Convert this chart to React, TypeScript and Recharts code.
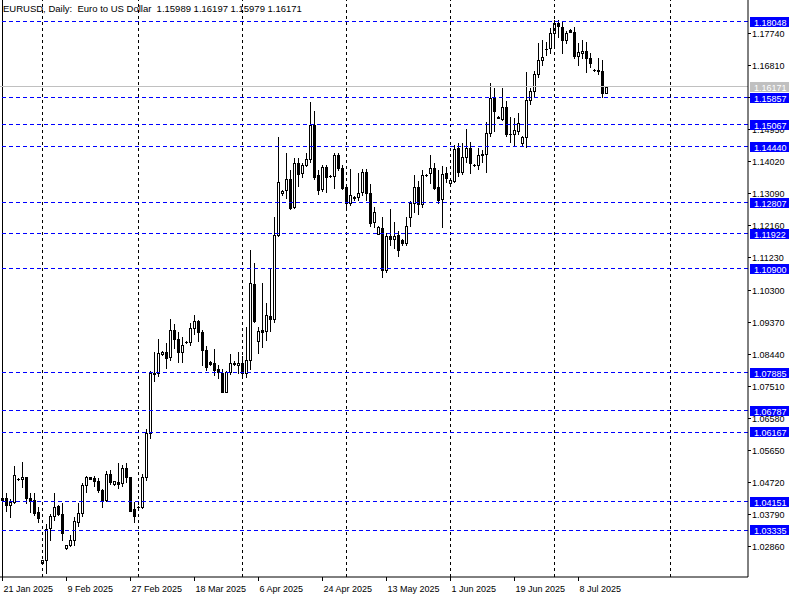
import { ComposedChart, Bar, XAxis, YAxis, ReferenceLine } from "recharts";

// daily EURUSD candles, 21 Jan 2025 .. 16 Jul 2025 (Sunday bars included)
const open = [
  1.042, 1.0426, 1.0406, 1.0416, 1.0481, 1.048, 1.0486, 1.0425, 1.042, 1.0386,
  1.0237, 1.0247, 1.0338, 1.0374, 1.0403, 1.038, 1.028, 1.0289, 1.0305, 1.0358,
  1.0382, 1.0464, 1.0486, 1.0483, 1.0476, 1.0449, 1.042, 1.0496, 1.0467, 1.0473,
  1.0469, 1.0512, 1.0486, 1.0393, 1.04, 1.0399, 1.0486, 1.0615, 1.0787, 1.0787,
  1.0842, 1.085, 1.0834, 1.0913, 1.0886, 1.085, 1.0878, 1.0879, 1.0918, 1.094,
  1.0906, 1.0855, 1.0821, 1.0816, 1.0799, 1.0789, 1.0734, 1.0792, 1.0818, 1.0811,
  1.0816, 1.0789, 1.0826, 1.1046, 1.0882, 1.0913, 1.0911, 1.0953, 1.0944, 1.1188,
  1.1309, 1.1318, 1.1349, 1.127, 1.1396, 1.1367, 1.1392, 1.1407, 1.1506, 1.1362,
  1.132, 1.1384, 1.1358, 1.1359, 1.142, 1.1381, 1.1326, 1.1281, 1.1297, 1.1297,
  1.1313, 1.137, 1.1309, 1.1225, 1.1192, 1.1207, 1.1087, 1.1185, 1.1175, 1.1188,
  1.1173, 1.1166, 1.1239, 1.128, 1.1326, 1.1278, 1.1362, 1.1367, 1.1381, 1.1328,
  1.1291, 1.1367, 1.1338, 1.1344, 1.1439, 1.1371, 1.1413, 1.1439, 1.1391, 1.1391,
  1.142, 1.1422, 1.1482, 1.1584, 1.153, 1.1525, 1.1558, 1.148, 1.148, 1.149,
  1.1453, 1.1473, 1.1578, 1.1606, 1.1654, 1.1695, 1.1726, 1.1729, 1.1774, 1.1803,
  1.1791, 1.1753, 1.1782, 1.1776, 1.1706, 1.1714, 1.1722, 1.17, 1.1667, 1.1666,
  1.1663, 1.15989,
];
const high = [
  1.0452, 1.044, 1.0422, 1.0519, 1.0484, 1.053, 1.0488, 1.0442, 1.044, 1.0401,
  1.0247, 1.035, 1.038, 1.044, 1.0405, 1.0412, 1.029, 1.0318, 1.0372, 1.0411,
  1.047, 1.049, 1.0488, 1.049, 1.0483, 1.0451, 1.0505, 1.0506, 1.0475, 1.0527,
  1.0522, 1.0528, 1.0488, 1.0415, 1.0403, 1.0496, 1.0625, 1.0793, 1.085, 1.0886,
  1.0851, 1.0876, 1.0945, 1.093, 1.0908, 1.0893, 1.0882, 1.0932, 1.0955, 1.0943,
  1.0912, 1.0865, 1.0823, 1.0857, 1.081, 1.08, 1.0795, 1.0843, 1.0823, 1.0848,
  1.0837, 1.0922, 1.1144, 1.1107, 1.0922, 1.1048, 1.0992, 1.1091, 1.1241, 1.1473,
  1.1318, 1.1425, 1.1376, 1.141, 1.141, 1.1396, 1.1425, 1.1573, 1.1547, 1.1376,
  1.1391, 1.1391, 1.1362, 1.1424, 1.1426, 1.139, 1.133, 1.138, 1.13, 1.1367,
  1.138, 1.138, 1.1336, 1.127, 1.1213, 1.1241, 1.1195, 1.1262, 1.1226, 1.12,
  1.1175, 1.1241, 1.1287, 1.1362, 1.1345, 1.1375, 1.1366, 1.1419, 1.1395, 1.1376,
  1.1388, 1.1385, 1.1349, 1.145, 1.1455, 1.1453, 1.1495, 1.1458, 1.1394, 1.144,
  1.1435, 1.1516, 1.1628, 1.1613, 1.1533, 1.1615, 1.1575, 1.1529, 1.1526, 1.154,
  1.1475, 1.166, 1.1613, 1.1664, 1.1745, 1.1754, 1.1748, 1.1787, 1.1812, 1.181,
  1.1806, 1.178, 1.1784, 1.179, 1.1745, 1.1753, 1.1748, 1.1715, 1.167, 1.17,
  1.1695, 1.16197,
];
const low = [
  1.0405, 1.0388, 1.037, 1.0412, 1.0478, 1.0459, 1.0411, 1.0386, 1.0377, 1.0357,
  1.0234, 1.0209, 1.0305, 1.0362, 1.0378, 1.0305, 1.0279, 1.0286, 1.029, 1.0345,
  1.0375, 1.0445, 1.048, 1.046, 1.0445, 1.0401, 1.0418, 1.0466, 1.0465, 1.0454,
  1.046, 1.0473, 1.0388, 1.0357, 1.0397, 1.0396, 1.0478, 1.06, 1.0765, 1.078,
  1.0841, 1.0802, 1.0825, 1.086, 1.0821, 1.0821, 1.0875, 1.0868, 1.09, 1.088,
  1.0811, 1.0797, 1.0812, 1.0782, 1.0775, 1.0732, 1.0733, 1.0785, 1.0812, 1.0787,
  1.0776, 1.0778, 1.08, 1.0935, 1.0845, 1.0864, 1.0884, 1.0911, 1.0937, 1.1185,
  1.1305, 1.1294, 1.1262, 1.1265, 1.133, 1.1356, 1.1388, 1.14, 1.135, 1.1307,
  1.1315, 1.1313, 1.1355, 1.1323, 1.1375, 1.132, 1.1265, 1.1275, 1.129, 1.129,
  1.1305, 1.129, 1.1215, 1.121, 1.119, 1.1065, 1.108, 1.116, 1.115, 1.1127,
  1.116, 1.116, 1.1214, 1.1255, 1.125, 1.127, 1.1358, 1.1338, 1.132, 1.128,
  1.121, 1.134, 1.1336, 1.134, 1.136, 1.1365, 1.14, 1.1367, 1.1388, 1.138,
  1.14, 1.137, 1.1475, 1.1489, 1.1526, 1.152, 1.1475, 1.1458, 1.1446, 1.148,
  1.145, 1.1444, 1.1567, 1.159, 1.1645, 1.168, 1.1709, 1.1715, 1.173, 1.176,
  1.1714, 1.1745, 1.1775, 1.17, 1.168, 1.17, 1.1661, 1.1675, 1.1663, 1.1654,
  1.1588, 1.15979,
];
const close = [
  1.0426, 1.0406, 1.0415, 1.0493, 1.048, 1.0486, 1.0425, 1.0418, 1.0384, 1.0367,
  1.0246, 1.0335, 1.0374, 1.0401, 1.038, 1.0324, 1.0289, 1.0305, 1.036, 1.0382,
  1.0464, 1.0488, 1.0481, 1.0476, 1.0449, 1.042, 1.0496, 1.0473, 1.0474, 1.0466,
  1.0512, 1.0488, 1.0389, 1.0374, 1.0401, 1.0486, 1.0615, 1.0787, 1.0785, 1.0847,
  1.085, 1.0832, 1.0913, 1.0886, 1.085, 1.0869, 1.0879, 1.0918, 1.094, 1.0906,
  1.0855, 1.0807, 1.0814, 1.0797, 1.079, 1.0734, 1.0792, 1.0816, 1.0815, 1.0818,
  1.0789, 1.0826, 1.1048, 1.094, 1.0911, 1.0908, 1.0956, 1.0944, 1.1188, 1.1342,
  1.1316, 1.1349, 1.1266, 1.1396, 1.1364, 1.1392, 1.1407, 1.1506, 1.1357, 1.1318,
  1.1384, 1.1357, 1.1359, 1.142, 1.1381, 1.1323, 1.1281, 1.1304, 1.1295, 1.1309,
  1.137, 1.1309, 1.1224, 1.1254, 1.1211, 1.1087, 1.1185, 1.1175, 1.1185, 1.1145,
  1.1164, 1.1214, 1.1281, 1.1326, 1.1279, 1.1362, 1.1363, 1.1381, 1.1323, 1.1289,
  1.1364, 1.1353, 1.1347, 1.1437, 1.1371, 1.1413, 1.1439, 1.1396, 1.1392, 1.142,
  1.1422, 1.1482, 1.1584, 1.1548, 1.1528, 1.1558, 1.148, 1.1481, 1.1492, 1.1513,
  1.1473, 1.1578, 1.1606, 1.1654, 1.1695, 1.1703, 1.1727, 1.1774, 1.1803, 1.1793,
  1.1753, 1.1772, 1.1776, 1.1706, 1.1719, 1.1722, 1.17, 1.1685, 1.1666, 1.1662,
  1.1599, 1.16171,
];

const dateTicks = [
  "21 Jan 2025", "9 Feb 2025", "27 Feb 2025", "18 Mar 2025", "6 Apr 2025",
  "24 Apr 2025", "13 May 2025", "1 Jun 2025", "19 Jun 2025", "8 Jul 2025",
];
const priceTicks = [
  1.1774, 1.1681, 1.1588, 1.1495, 1.1402, 1.1309, 1.1216, 1.1123, 1.103,
  1.0937, 1.0844, 1.0751, 1.0658, 1.0565, 1.0472, 1.0379, 1.0286,
];
const levels = [
  1.18048, 1.15857, 1.15067, 1.1444, 1.12807, 1.11922, 1.109, 1.07885,
  1.06787, 1.06167, 1.04151, 1.03335,
];
const monthStarts = ["2 Feb 2025", "2 Mar 2025", "1 Apr 2025", "1 May 2025", "1 Jun 2025", "1 Jul 2025", "f15"];
const bid = 1.16171;

const MON = ["Jan", "Feb", "Mar", "Apr", "May", "Jun", "Jul", "Aug"];
// broker calendar: Sunday..Friday bars, no Saturday
const dates: string[] = [];
for (let d = new Date(Date.UTC(2025, 0, 21)); dates.length < open.length; d.setUTCDate(d.getUTCDate() + 1)) {
  if (d.getUTCDay() === 6) continue;
  dates.push(`${d.getUTCDate()} ${MON[d.getUTCMonth()]} 2025`);
}

const FUTURE = 35; // empty chart shift on the right
const rows = [
  ...dates.map((date, i) => ({
    date,
    open: open[i],
    high: high[i],
    low: low[i],
    close: close[i],
    range: [low[i], high[i]],
  })),
  ...Array.from({ length: FUTURE }, (_, k) => ({ date: `f${k}`, range: null })),
];

// plain ticks first, then the tags so they paint over the ticks they hide
const axisTicks = [...priceTicks, bid, ...levels];

const FONT = "Liberation Sans, Arial, sans-serif";

function Candle(props: any) {
  const { x, y, width, height, payload } = props;
  if (!payload || payload.open == null) return null;
  const { open: o, high: h, low: l, close: c } = payload;
  const top = Math.min(y, y + height);
  const hh = Math.abs(height);
  const toY = (p: number) => top + ((h - p) / (h - l)) * hh;
  const cx = Math.floor(x + width / 2);
  const b1 = Math.round(Math.min(toY(o), toY(c)));
  const b2 = Math.round(Math.max(toY(o), toY(c)));
  return (
    <g shapeRendering="crispEdges">
      <line x1={cx + 0.5} x2={cx + 0.5} y1={Math.round(top)} y2={Math.round(top + hh) + 1} stroke="#000" />
      {b2 - b1 < 1 ? (
        <line x1={cx - 1} x2={cx + 2} y1={b1 + 0.5} y2={b1 + 0.5} stroke="#000" />
      ) : c >= o ? (
        <rect x={cx - 0.5} y={b1 + 0.5} width={2} height={b2 - b1} fill="#fff" stroke="#000" />
      ) : (
        <rect x={cx - 1} y={b1} width={3} height={b2 - b1 + 1} fill="#000" />
      )}
    </g>
  );
}

function DateTick({ x, y, payload }: any) {
  const px = Math.round(x) + 0.5;
  return (
    <g shapeRendering="crispEdges">
      <line x1={px} x2={px} y1={y} y2={y + 4} stroke="#000" />
      <text x={px + 1} y={y + 15} fontSize={9} fontFamily={FONT} fill="#000" textAnchor="start">
        {payload.value}
      </text>
    </g>
  );
}

function PriceTick({ x, y, payload }: any) {
  const v: number = payload.value;
  const yy = Math.round(y);
  const isLevel = levels.includes(v);
  const isBid = v === bid;
  if (isLevel || isBid) {
    return (
      <g>
        <rect x={x - 2} y={yy - 5} width={39} height={10} fill={isBid ? "#c0c0c0" : "#0000ff"} shapeRendering="crispEdges" />
        <text x={x + 2} y={yy + 4} fontSize={9} fontFamily={FONT} fill="#fff">
          {v.toFixed(5)}
        </text>
      </g>
    );
  }
  return (
    <g>
      <line x1={x - 4} x2={x - 1} y1={yy + 0.5} y2={yy + 0.5} stroke="#000" shapeRendering="crispEdges" />
      <text x={x} y={yy + 4} fontSize={9} fontFamily={FONT} fill="#000">
        {v.toFixed(5)}
      </text>
    </g>
  );
}

export default function App() {
  return (
    <div style={{ position: "absolute", left: 0, top: 0, width: 800, height: 600, background: "#fff" }}>
      <ComposedChart
        width={800}
        height={600}
        data={rows}
        margin={{ top: 0, right: 0, bottom: 0, left: 0 }}
        barCategoryGap={0}
      >
        <XAxis
          dataKey="date"
          type="category"
          ticks={dateTicks}
          interval={0}
          height={23}
          tickSize={0}
          tickMargin={0}
          tickLine={false}
          axisLine={{ stroke: "#000" }}
          tick={<DateTick />}
        />
        <YAxis
          orientation="right"
          type="number"
          width={52}
          domain={[1.01974, 1.18685]}
          allowDataOverflow
          ticks={axisTicks}
          interval={0}
          tickSize={3}
          tickMargin={1}
          tickLine={false}
          tick={<PriceTick />}
          axisLine={{ stroke: "#000" }}
        />
        {monthStarts.map((m) => (
          <ReferenceLine key={m} x={m} stroke="#000" strokeDasharray="3 3" shapeRendering="crispEdges" />
        ))}
        <ReferenceLine x={dates[0]} stroke="#000" shapeRendering="crispEdges" />
        <Bar dataKey="range" shape={<Candle />} isAnimationActive={false} />
        {levels.map((v) => (
          <ReferenceLine key={v} y={v} stroke="#0000ff" strokeDasharray="4 3" shapeRendering="crispEdges" />
        ))}
        <ReferenceLine y={bid} stroke="#c0c0c0" shapeRendering="crispEdges" />
      </ComposedChart>
      <div
        style={{
          position: "absolute",
          left: 3,
          top: 3,
          fontFamily: FONT,
          fontSize: 9.5,
          lineHeight: "11px",
          whiteSpace: "pre",
          color: "#000",
        }}
      >
        {"EURUSD, Daily:  Euro to US Dollar  1.15989 1.16197 1.15979 1.16171"}
      </div>
    </div>
  );
}
